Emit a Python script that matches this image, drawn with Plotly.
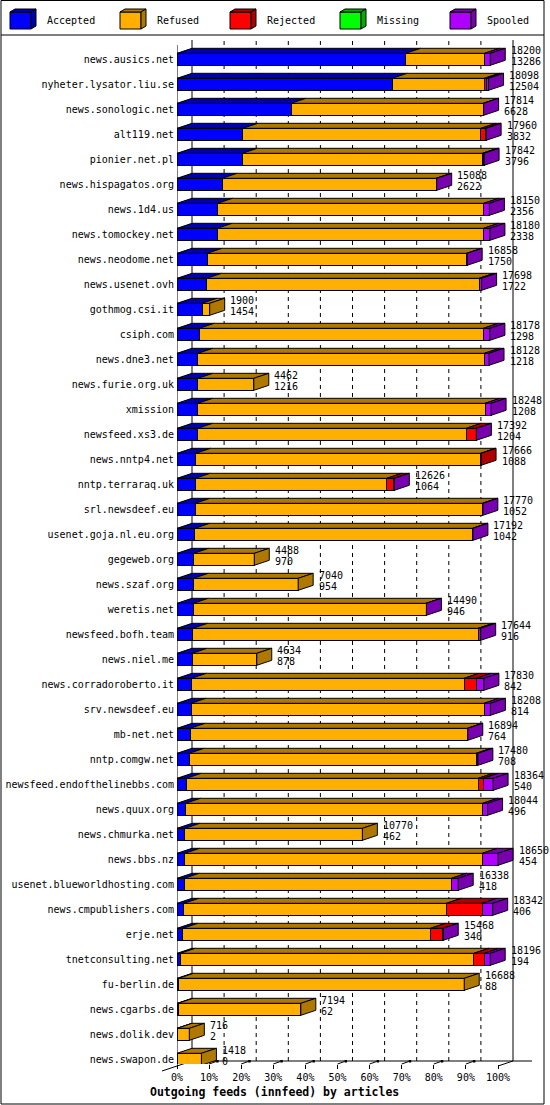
import plotly.graph_objects as go

# ---------------- data ----------------
hosts = [
    "news.ausics.net", "nyheter.lysator.liu.se", "news.sonologic.net", "alt119.net",
    "pionier.net.pl", "news.hispagatos.org", "news.1d4.us", "news.tomockey.net",
    "news.neodome.net", "news.usenet.ovh", "gothmog.csi.it", "csiph.com",
    "news.dne3.net", "news.furie.org.uk", "xmission", "newsfeed.xs3.de",
    "news.nntp4.net", "nntp.terraraq.uk", "srl.newsdeef.eu", "usenet.goja.nl.eu.org",
    "gegeweb.org", "news.szaf.org", "weretis.net", "newsfeed.bofh.team",
    "news.niel.me", "news.corradoroberto.it", "srv.newsdeef.eu", "mb-net.net",
    "nntp.comgw.net", "newsfeed.endofthelinebbs.com", "news.quux.org", "news.chmurka.net",
    "news.bbs.nz", "usenet.blueworldhosting.com", "news.cmpublishers.com", "erje.net",
    "tnetconsulting.net", "fu-berlin.de", "news.cgarbs.de", "news.dolik.dev",
    "news.swapon.de",
]
total = [18200, 18098, 17814, 17960, 17842, 15088, 18150, 18180, 16858, 17698,
         1900, 18178, 18128, 4462, 18248, 17392, 17666, 12626, 17770, 17192,
         4488, 7040, 14490, 17644, 4634, 17830, 18208, 16894, 17480, 18364,
         18044, 10770, 18650, 16338, 18342, 15468, 18196, 16688, 7194, 716, 1418]
accepted = [13286, 12504, 6628, 3832, 3796, 2622, 2356, 2338, 1750, 1722,
            1454, 1298, 1218, 1216, 1208, 1204, 1088, 1064, 1052, 1042,
            970, 954, 946, 916, 878, 842, 814, 764, 708, 540,
            496, 462, 454, 418, 406, 340, 194, 88, 62, 2, 0]
refused = [4584, 5354, 11166, 13828, 13946, 12436, 15464, 15472, 15078, 15826,
           446, 16500, 16640, 3246, 16690, 15608, 16558, 11122, 16698, 16130,
           3518, 6086, 13524, 16578, 3756, 15838, 17024, 16110, 16672, 16954,
           17258, 10308, 17286, 15530, 15246, 14388, 17052, 16600, 7132, 714, 1418]
rejected = [0, 120, 0, 280, 80, 0, 0, 0, 0, 0,
            0, 0, 0, 0, 0, 560, 20, 420, 0, 0,
            0, 0, 0, 0, 0, 700, 0, 0, 0, 290,
            0, 0, 0, 0, 2070, 720, 600, 0, 0, 0, 0]
missing = [0, 0, 0, 0, 0, 0, 0, 0, 0, 0,
           0, 0, 0, 0, 0, 0, 0, 0, 0, 0,
           0, 0, 0, 0, 0, 0, 0, 0, 0, 0,
           0, 0, 0, 0, 0, 0, 0, 0, 0, 0, 0]
spooled = [330, 120, 20, 20, 20, 30, 330, 370, 30, 150,
           0, 380, 270, 0, 350, 20, 0, 20, 20, 20,
           0, 0, 20, 150, 0, 450, 370, 20, 100, 580,
           290, 0, 910, 390, 620, 20, 350, 0, 0, 0, 0]
series_names = ["Accepted", "Refused", "Rejected", "Missing", "Spooled"]
tick_values = [0, 10, 20, 30, 40, 50, 60, 70, 80, 90, 100]
tick_labels = ["0%", "10%", "20%", "30%", "40%", "50%", "60%", "70%", "80%", "90%", "100%"]
axis_title = "Outgoing feeds (innfeed) by articles"

# ---------------- style ----------------
front = ["#0000FF", "#FFAF00", "#FF0000", "#00FF00", "#AF00FF"]
dark = ["#0000AF", "#AF7800", "#AF0000", "#00AF00", "#7800AF"]
FONT = "DejaVu Sans Mono"
W, H_FIG = 550, 1105
L, R, T, B = 177, 3, 40, 41
PXU = 3.21            # pixels per percent unit
ROW = 25.0            # pixels per category
Y0C = 59.3            # pixel centre of first row
DX = 15 / PXU         # depth offset in x units
DY = 5 / ROW          # depth offset in y units
HH = 0.24             # half bar height in category units
plot_w = W - L - R
plot_h = H_FIG - T - B
x_max = plot_w / PXU
y_top = (T - Y0C) / ROW
y_bot = (H_FIG - B - Y0C) / ROW


def xp(px):
    return (px - L) / plot_w


def yp(py):
    return (H_FIG - B - py) / plot_h


series = [accepted, refused, rejected, missing, spooled]
N = len(hosts)
idx = list(range(N))
scale = 100.0 / max(total)

fig = go.Figure()
for s, name in enumerate(series_names):
    vals = [v * scale if v > 0 else None for v in series[s]]
    fig.add_trace(go.Bar(
        x=vals, y=idx, orientation="h", width=2 * HH, name=name,
        marker=dict(color=front[s], line=dict(color="black", width=1)),
        showlegend=False, hoverinfo="skip",
    ))

shapes = []
line_k = dict(color="black", width=1)

# back wall / grid
for k, tv in enumerate(tick_values):
    shapes.append(dict(type="line", xref="x", yref="paper", x0=tv + DX, x1=tv + DX,
                       y0=yp(1061), y1=yp(40), layer="below",
                       line=dict(color="black", width=1,
                                 dash="solid" if tv in (0, 100) else "4px,4px")))
# front axis line
shapes.append(dict(type="line", xref="x", yref="paper", x0=0, x1=0,
                   y0=yp(1065), y1=yp(45), layer="below", line=line_k))
# floor back line
shapes.append(dict(type="line", xref="x", yref="paper", x0=DX, x1=(532 - L) / PXU,
                   y0=yp(1061), y1=yp(1061), layer="below", line=line_k))
# floor diagonals
shapes.append(dict(type="line", xref="paper", yref="paper", x0=xp(162), x1=xp(192),
                   y0=yp(1071), y1=yp(1061), layer="below", line=line_k))
shapes.append(dict(type="line", xref="x", yref="paper", x0=100, x1=100 + DX,
                   y0=yp(1066), y1=yp(1061), layer="below", line=line_k))
for tv in tick_values[1:-1]:
    shapes.append(dict(type="line", xref="x", yref="paper", x0=tv, x1=tv + 7 / PXU,
                       y0=yp(1064), y1=yp(1061.5), layer="below", line=line_k))
    shapes.append(dict(type="rect", xref="x", yref="paper", x0=tv + 7 / PXU, x1=tv + 9.5 / PXU,
                       y0=yp(1062.5), y1=yp(1060), layer="below",
                       fillcolor="black", line=dict(width=0)))

# 3D faces of the bars
annotations = []
for i in idx:
    x = 0.0
    yt = i - HH
    yb = i + HH
    last = None
    for s in range(len(series)):
        v = series[s][i] * scale
        if v <= 0:
            continue
        shapes.append(dict(
            type="path", xref="x", yref="y", layer="above",
            path=f"M{x},{yt} L{x + v},{yt} L{x + v + DX},{yt - DY} L{x + DX},{yt - DY} Z",
            fillcolor=dark[s], line=line_k))
        x += v
        last = s
    if last is not None:
        shapes.append(dict(
            type="path", xref="x", yref="y", layer="above",
            path=f"M{x},{yt} L{x},{yb} L{x + DX},{yb - DY} L{x + DX},{yt - DY} Z",
            fillcolor=dark[last], line=line_k))
    lx = x + DX + 3.5 / PXU
    annotations.append(dict(x=lx, y=i - 9.3 / ROW, xref="x", yref="y", text=str(total[i]),
                            showarrow=False, xanchor="left", yanchor="middle",
                            font=dict(family=FONT, size=10, color="black")))
    annotations.append(dict(x=lx, y=i + 1.7 / ROW, xref="x", yref="y", text=str(accepted[i]),
                            showarrow=False, xanchor="left", yanchor="middle",
                            font=dict(family=FONT, size=10, color="black")))

# outer frame and legend band
shapes.append(dict(type="rect", xref="paper", yref="paper", x0=xp(1), x1=xp(544),
                   y0=yp(1104), y1=yp(0.5), line=line_k, layer="above"))
shapes.append(dict(type="line", xref="paper", yref="paper", x0=xp(1), x1=xp(544),
                   y0=yp(35), y1=yp(35), line=line_k, layer="above"))
for k, name in enumerate(series_names):
    bx0 = 10 + 110 * k
    bx1 = bx0 + 21
    by0, by1 = 12, 29
    shapes.append(dict(type="rect", xref="paper", yref="paper", x0=xp(bx0), x1=xp(bx1),
                       y0=yp(by1), y1=yp(by0), fillcolor=front[k], line=line_k, layer="above"))
    shapes.append(dict(type="path", xref="paper", yref="paper", layer="above",
                       path=f"M{xp(bx0)},{yp(by0)} L{xp(bx1)},{yp(by0)} L{xp(bx1 + 5)},{yp(by0 - 3)} "
                            f"L{xp(bx0 + 5)},{yp(by0 - 3)} Z",
                       fillcolor=dark[k], line=line_k))
    shapes.append(dict(type="path", xref="paper", yref="paper", layer="above",
                       path=f"M{xp(bx1)},{yp(by0)} L{xp(bx1)},{yp(by1)} L{xp(bx1 + 5)},{yp(by1 - 3)} "
                            f"L{xp(bx1 + 5)},{yp(by0 - 3)} Z",
                       fillcolor=dark[k], line=line_k))
    annotations.append(dict(x=xp(44.5 + 110 * k), y=yp(20.5), xref="paper", yref="paper",
                            text=name, showarrow=False, xanchor="left", yanchor="middle",
                            font=dict(family=FONT, size=10, color="black")))

annotations.append(dict(x=xp(274), y=yp(1092), xref="paper", yref="paper",
                        text=f"<b>{axis_title}</b>", showarrow=False,
                        xanchor="center", yanchor="middle",
                        font=dict(family=FONT, size=11.5, color="black")))

fig.update_layout(
    width=W, height=H_FIG, autosize=False,
    margin=dict(l=L, r=R, t=T, b=B, pad=0),
    paper_bgcolor="white", plot_bgcolor="white",
    barmode="stack", bargap=0,
    shapes=shapes, annotations=annotations,
    font=dict(family=FONT, size=10, color="black"),
    xaxis=dict(range=[0, x_max], tickvals=tick_values, ticktext=tick_labels,
               ticks="outside", ticklen=4, tickwidth=1, tickcolor="black",
               showgrid=False, zeroline=False, showline=False, fixedrange=True,
               tickfont=dict(family=FONT, size=10, color="black")),
    yaxis=dict(range=[y_bot, y_top], tickvals=idx, ticktext=hosts,
               ticks="", showgrid=False, zeroline=False, showline=False, fixedrange=True,
               ticklabelstandoff=2,
               tickfont=dict(family=FONT, size=10, color="black")),
)

fig.write_html(
    "out.html",
    config={"staticPlot": True},
    post_script="document.body.style.margin='0';document.body.style.overflow='hidden';",
)
